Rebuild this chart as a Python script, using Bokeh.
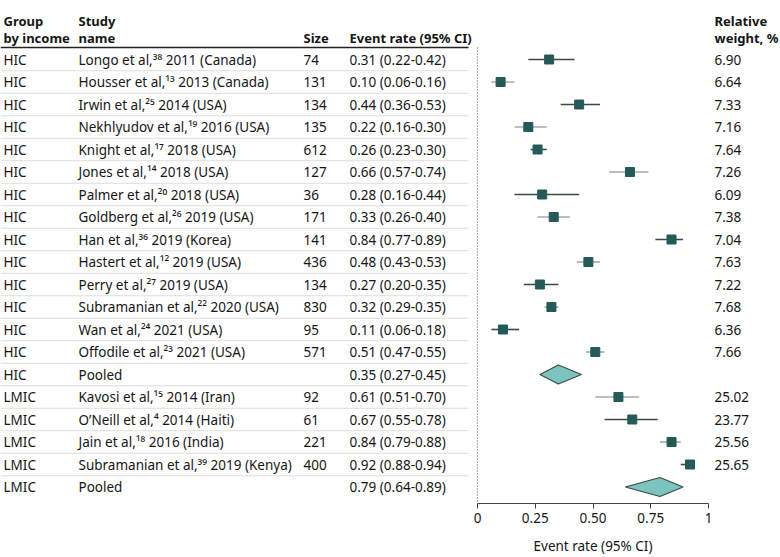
from bokeh.plotting import figure
from bokeh.models import Range1d, FixedTicker, ColumnDataSource
from bokeh.embed import file_html
from bokeh.resources import INLINE
from bokeh.core.properties import value

# ---------------- data ----------------
groups = ["HIC"] * 15 + ["LMIC"] * 5
authors = ["Longo et al", "Housser et al", "Irwin et al", "Nekhlyudov et al", "Knight et al",
           "Jones et al", "Palmer et al", "Goldberg et al", "Han et al", "Hastert et al",
           "Perry et al", "Subramanian et al", "Wan et al", "Offodile et al", "Pooled",
           "Kavosi et al", "O\u2019Neill et al", "Jain et al", "Subramanian et al", "Pooled"]
refs = ["38", "13", "25", "19", "17", "14", "20", "26", "36", "12", "27", "22", "24", "23", "",
        "15", "4", "18", "39", ""]
years = ["2011", "2013", "2014", "2016", "2018", "2018", "2018", "2019", "2019", "2019",
         "2019", "2020", "2021", "2021", "", "2014", "2014", "2016", "2019", ""]
countries = ["Canada", "Canada", "USA", "USA", "USA", "USA", "USA", "USA", "Korea", "USA",
             "USA", "USA", "USA", "USA", "", "Iran", "Haiti", "India", "Kenya", ""]
sizes = [74, 131, 134, 135, 612, 127, 36, 171, 141, 436, 134, 830, 95, 571, None,
         92, 61, 221, 400, None]
rates = [0.31, 0.10, 0.44, 0.22, 0.26, 0.66, 0.28, 0.33, 0.84, 0.48, 0.27, 0.32, 0.11, 0.51, 0.35,
         0.61, 0.67, 0.84, 0.92, 0.79]
lows = [0.22, 0.06, 0.36, 0.16, 0.23, 0.57, 0.16, 0.26, 0.77, 0.43, 0.20, 0.29, 0.06, 0.47, 0.27,
        0.51, 0.55, 0.79, 0.88, 0.64]
highs = [0.42, 0.16, 0.53, 0.30, 0.30, 0.74, 0.44, 0.40, 0.89, 0.53, 0.35, 0.35, 0.18, 0.55, 0.45,
         0.70, 0.78, 0.88, 0.94, 0.89]
weights = [6.90, 6.64, 7.33, 7.16, 7.64, 7.26, 6.09, 7.38, 7.04, 7.63, 7.22, 7.68, 6.36, 7.66, None,
           25.02, 23.77, 25.56, 25.65, None]
pooled = [False] * 14 + [True] + [False] * 4 + [True]
tick_vals = [0, 0.25, 0.5, 0.75, 1]
tick_labels = ["0", "0.25", "0.50", "0.75", "1"]
axis_title = "Event rate (95% CI)"

# ---------------- layout constants ----------------
FONT = "Noto Sans"
FS = "13.5px"
FS_HDR = "13px"
TXT = "#161616"
W, H = 780, 557
PX_PER_UNIT = 231.0
X0_PX = 477.0           # pixel of event rate 0
AXIS_PX = 503
ROW_PX = 22.5
ROW1_PX = 59.0

def xd(px):
    return (px - X0_PX) / PX_PER_UNIT

def yd(px):
    return 1 + (px - ROW1_PX) / ROW_PX

SUP = str.maketrans("0123456789", "\u2070\u00b9\u00b2\u00b3\u2074\u2075\u2076\u2077\u2078\u2079")

n = len(groups)
rows = list(range(1, n + 1))
study_labels = []
for a, r, yv, c in zip(authors, refs, years, countries):
    if r:
        study_labels.append(f"{a},{r.translate(SUP)} {yv} ({c})")
    else:
        study_labels.append(a)
size_labels = ["" if s is None else str(s) for s in sizes]
rate_labels = [f"{m:.2f} ({lo:.2f}-{hi:.2f})" for m, lo, hi in zip(rates, lows, highs)]
weight_labels = ["" if w is None else f"{w:.2f}" for w in weights]

p = figure(width=W, height=H, output_backend="svg", toolbar_location=None,
           x_range=Range1d(xd(0), xd(W)),
           y_range=Range1d(yd(H), yd(0)),
           min_border_left=0, min_border_right=0, min_border_top=0, min_border_bottom=0)
p.outline_line_color = None
p.background_fill_color = "white"
p.border_fill_color = "white"
p.grid.visible = False
p.yaxis.visible = False

ax = p.xaxis[0]
ax.fixed_location = yd(AXIS_PX)
ax.bounds = (0, 1)
ax.ticker = FixedTicker(ticks=tick_vals)
ax.major_label_overrides = {v: l for v, l in zip(tick_vals, tick_labels)}
ax.minor_tick_line_color = None
ax.major_tick_in = 0
ax.major_tick_out = 5
ax.axis_line_color = "#444444"
ax.major_tick_line_color = "#444444"
ax.major_label_text_font = FONT
ax.major_label_text_font_size = FS
ax.major_label_text_color = TXT
ax.major_label_standoff = 4

# axis title centred under the axis span
p.text(x=[0.5], y=[yd(545)], text=[axis_title], text_font=value(FONT), text_font_size=FS,
       text_color=TXT, text_align="center", text_baseline="middle")

# table lines
left_x, right_x = xd(0), xd(468)
sep_rows = [r + 0.5 for r in rows[:-1]]
p.segment(x0=[left_x] * len(sep_rows), x1=[right_x] * len(sep_rows), y0=sep_rows, y1=sep_rows,
          line_color="#dddddd", line_width=1.2)
hdr_line = yd(47)
p.segment(x0=[left_x], x1=[right_x], y0=[hdr_line], y1=[hdr_line], line_color="#222222", line_width=1.3)

# dotted reference line at 0
p.segment(x0=[0], x1=[0], y0=[hdr_line], y1=[yd(AXIS_PX)], line_color="#555555",
          line_dash="1 2", line_width=1)

# headers
col_group, col_study, col_size, col_rate, col_w = xd(3), xd(78), xd(303), xd(349), xd(714)
hy1, hy2 = yd(20), yd(37)
hdr_x = [col_group, col_study, col_group, col_study, col_size, col_rate, col_w, col_w]
hdr_y = [hy1, hy1, hy2, hy2, hy2, hy2, hy1, hy2]
hdr_t = ["Group", "Study", "by income", "name", "Size", "Event rate (95% CI)", "Relative", "weight, %"]
p.text(x=hdr_x, y=hdr_y, text=hdr_t, text_font=value(FONT), text_font_size=FS_HDR,
       text_font_style="bold", text_color=TXT, text_baseline="middle", text_align="left")

# table body
src = ColumnDataSource(dict(row=rows, group=groups, study=study_labels, size=size_labels,
                            rate=rate_labels, weight=weight_labels))
for col, field in [(col_group, "group"), (col_study, "study"), (col_size, "size"),
                   (col_rate, "rate"), (col_w, "weight")]:
    p.text(x=col, y="row", text=field, source=src, text_font=value(FONT), text_font_size=FS,
           text_color=TXT, text_baseline="middle", text_align="left")

# CI lines and markers for individual studies
ind = [i for i in range(n) if not pooled[i]]
ci_colors = ["#3c4848" if (i % 2 == 0) else "#a8a8a8" for i in ind]
p.segment(x0=[lows[i] for i in ind], x1=[highs[i] for i in ind],
          y0=[rows[i] for i in ind], y1=[rows[i] for i in ind],
          line_color=ci_colors, line_width=1.6)
p.scatter(x=[rates[i] for i in ind], y=[rows[i] for i in ind], marker="square", size=9,
          fill_color="#245a57", line_color="#245a57")

# pooled diamonds
hh = 9.5 / ROW_PX
xs, ys = [], []
for i in range(n):
    if pooled[i]:
        xs.append([lows[i], rates[i], highs[i], rates[i]])
        ys.append([rows[i], rows[i] - hh, rows[i], rows[i] + hh])
p.patches(xs=xs, ys=ys, fill_color="#7cc4c0", line_color="#3a4a48", line_width=1.2)

open("out.html", "w").write(file_html(p, INLINE))
